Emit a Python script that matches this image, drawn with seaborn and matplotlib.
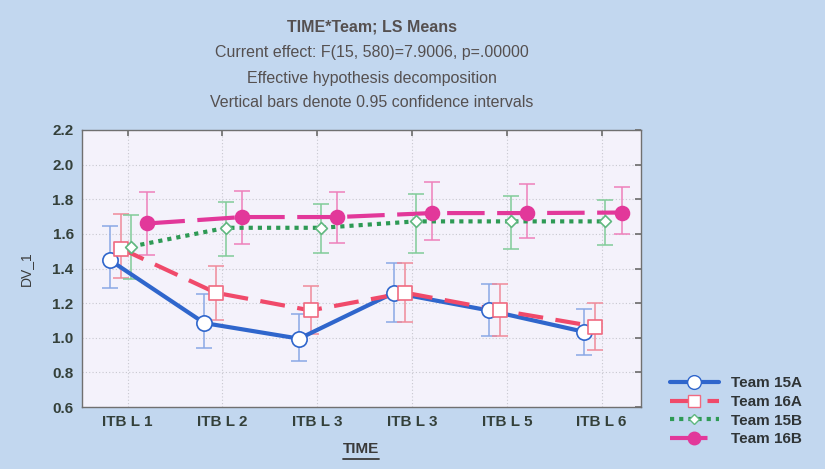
import numpy as np
import pandas as pd
import matplotlib
matplotlib.use("Agg")
import matplotlib.pyplot as plt
import seaborn as sns

# ---- data ----
times = ["ITB L 1", "ITB L 2", "ITB L 3", "ITB L 3", "ITB L 5", "ITB L 6"]
teams = ["Team 15A", "Team 16A", "Team 15B", "Team 16B"]

mean_15A = [1.45, 1.085, 0.995, 1.26, 1.158, 1.035]
lo_15A = [1.29, 0.94, 0.865, 1.09, 1.01, 0.90]
hi_15A = [1.645, 1.255, 1.14, 1.43, 1.31, 1.165]

mean_16A = [1.515, 1.26, 1.158, 1.26, 1.158, 1.065]
lo_16A = [1.345, 1.10, 1.02, 1.09, 1.01, 0.93]
hi_16A = [1.715, 1.415, 1.30, 1.43, 1.31, 1.20]

mean_15B = [1.527, 1.635, 1.635, 1.672, 1.672, 1.672]
lo_15B = [1.34, 1.47, 1.49, 1.49, 1.51, 1.535]
hi_15B = [1.71, 1.785, 1.77, 1.83, 1.82, 1.795]

mean_16B = [1.66, 1.697, 1.697, 1.72, 1.72, 1.723]
lo_16B = [1.48, 1.54, 1.55, 1.565, 1.575, 1.598]
hi_16B = [1.84, 1.85, 1.84, 1.90, 1.89, 1.87]

means = [mean_15A, mean_16A, mean_15B, mean_16B]
los = [lo_15A, lo_16A, lo_15B, lo_16B]
his = [hi_15A, hi_16A, hi_15B, hi_16B]

# ---- styling ----
offsets = [-0.19, -0.07, 0.04, 0.21]
line_cols = ["#2f66cc", "#f04a6a", "#2e9a55", "#e2389a"]
err_cols = ["#8aa8e6", "#f08a9a", "#80cc98", "#ee80bb"]
markers = ["o", "s", "D", "o"]
mfaces = ["white", "white", "white", "#e2389a"]
medges = ["#2f66cc", "#f06a80", "#60b880", "#e2389a"]
msizes = [11, 10, 6, 10]
dashes = [(None, None), (6, 3), (1, 1.2), (9, 3)]

rows = []
for t, m, lo, hi, off in zip(teams, means, los, his, offsets):
    for i, (v, l, h) in enumerate(zip(m, lo, hi)):
        rows.append(dict(team=t, pos=i + off, mean=v, lo=l, hi=h))
df = pd.DataFrame(rows)

sns.set_theme(style="white")
plt.rcParams['font.family'] = ['Liberation Sans', 'DejaVu Sans']

fig = plt.figure(figsize=(8.25, 4.69), dpi=100)
fig.patch.set_facecolor("#c2d7ef")
ax = fig.add_axes([0.0994, 0.132, 0.677, 0.591])
ax.set_facecolor("#f4f2fb")

handles = []
for k, t in enumerate(teams):
    d = df[df.team == t]
    ax.errorbar(d["pos"], d["mean"], yerr=[d["mean"] - d["lo"], d["hi"] - d["mean"]],
                fmt="none", ecolor=err_cols[k], elinewidth=1.1, capsize=6, capthick=1.1, zorder=2)
    sns.lineplot(data=d, x="pos", y="mean", ax=ax, color=line_cols[k], linewidth=3,
                 sort=False, legend=False, zorder=3)
    ln = ax.lines[-1]
    if dashes[k][0] is not None:
        ln.set_dashes(dashes[k])
    sns.scatterplot(data=d, x="pos", y="mean", ax=ax, marker=markers[k], s=msizes[k] ** 2,
                    facecolor=mfaces[k], edgecolor=medges[k],
                    linewidth=1.2, legend=False, zorder=4)
    h = plt.Line2D([], [], color=line_cols[k], linewidth=3, marker=markers[k],
                   markersize=msizes[k] * 0.9, markerfacecolor=mfaces[k],
                   markeredgecolor=medges[k], label=t)
    if dashes[k][0] is not None:
        h.set_dashes(dashes[k])
    handles.append(h)

ax.set_xlim(-0.48, 5.41)
ax.set_ylim(0.6, 2.2)
ax.set_xticks(range(len(times)))
ax.set_xticklabels(times)
ax.set_yticks(np.arange(0.6, 2.21, 0.2))
ax.set_yticklabels([f"{v:.1f}" for v in np.arange(0.6, 2.21, 0.2)])
ax.grid(True, color="#c8c8d0", linestyle=(0, (1, 2)), linewidth=0.8)
ax.set_axisbelow(True)
for s in ax.spines.values():
    s.set_color("#707070")
    s.set_linewidth(1.0)
ax.tick_params(axis="both", which="both", direction="in", length=4, color="#707070",
               top=True, right=True, labelsize=11, labelcolor="#34403a", pad=6)
for lab in ax.get_xticklabels() + ax.get_yticklabels():
    lab.set_fontweight("bold")

ax.set_xlabel("TIME", fontsize=11, fontweight="bold", color="#3a3a3a", labelpad=9)
ax.set_ylabel("DV_1", fontsize=10, color="#3a3a3a", labelpad=14)

# underline TIME
fig.add_artist(plt.Line2D([343 / 825, 379 / 825], [1 - 459 / 469, 1 - 459 / 469],
                          color="#3a3a3a", linewidth=1.3))

cx = 0.451
fig.text(cx, 1 - 27 / 469, "TIME*Team; LS Means", ha="center", va="center",
         fontsize=11.5, fontweight="bold", color="#555050")
fig.text(cx, 1 - 53 / 469, "Current effect: F(15, 580)=7.9006, p=.00000", ha="center",
         va="center", fontsize=11.5, color="#555050")
fig.text(cx, 1 - 78 / 469, "Effective hypothesis decomposition", ha="center",
         va="center", fontsize=11.5, color="#555050")
fig.text(cx, 1 - 102 / 469, "Vertical bars denote 0.95 confidence intervals", ha="center",
         va="center", fontsize=11.5, color="#555050")

leg = fig.legend(handles=handles, loc="center left", bbox_to_anchor=(0.795, 0.123),
                 frameon=False, fontsize=11, handlelength=3.2, labelspacing=0.3,
                 handletextpad=0.8)
for txt in leg.get_texts():
    txt.set_fontweight("bold")
    txt.set_color("#2f3436")

fig.savefig("out.png", dpi=100, facecolor=fig.get_facecolor())
